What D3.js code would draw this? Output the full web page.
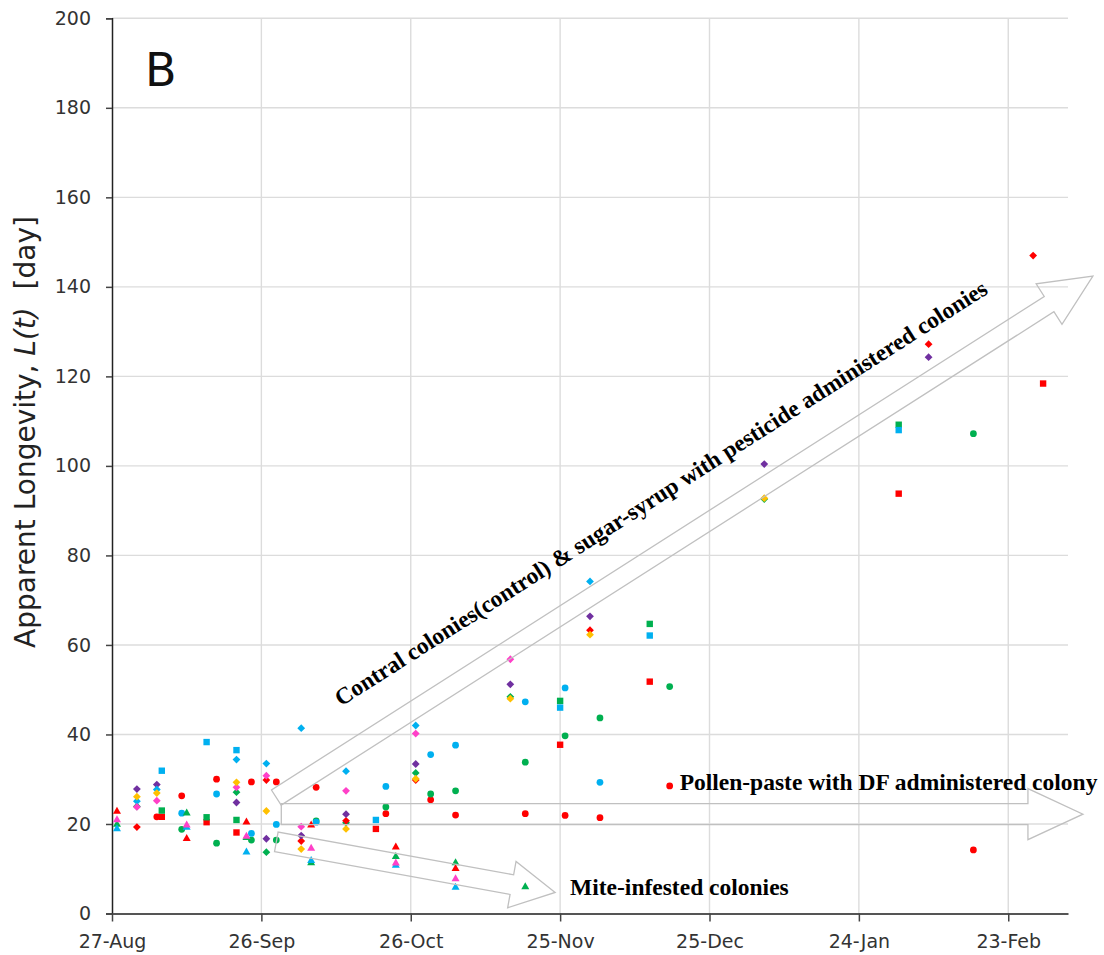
<!DOCTYPE html>
<html>
<head>
<meta charset="utf-8">
<script src="https://cdn.jsdelivr.net/npm/d3@7"></script>
<style>
  body { margin: 0; background: #fff; }
  svg { display: block; }
</style>
</head>
<body>
<script>
// colonies: [date, apparent longevity in days]
const redCircle = [["2013-09-05",21.6],["2013-09-10",26.3],["2013-09-17",30.0],["2013-09-24",29.4],["2013-09-29",29.4],["2013-10-07",28.2],["2013-10-21",22.3],["2013-10-30",25.4],["2013-11-04",22.0],["2013-11-18",22.3],["2013-11-26",21.9],["2013-12-03",21.4],["2013-12-17",28.5],["2014-02-16",14.2]];
const greenCircle = [["2013-09-10",18.8],["2013-09-17",15.7],["2013-09-24",16.4],["2013-09-29",16.4],["2013-10-07",20.7],["2013-10-21",23.8],["2013-10-30",26.7],["2013-11-04",27.4],["2013-11-18",33.8],["2013-11-26",39.7],["2013-12-03",43.7],["2013-12-17",50.7],["2014-02-16",107.2]];
const blueCircle = [["2013-09-10",22.4],["2013-09-17",26.7],["2013-09-24",17.9],["2013-09-29",19.9],["2013-10-07",20.4],["2013-10-21",28.4],["2013-10-30",35.5],["2013-11-04",37.6],["2013-11-18",47.3],["2013-11-26",50.4],["2013-12-03",29.3]];

const redSquare = [["2013-09-06",21.6],["2013-09-15",20.4],["2013-09-21",18.1],["2013-10-19",18.9],["2013-11-25",37.7],["2013-12-13",51.8],["2014-02-01",93.8],["2014-03-02",118.4]];
const greenSquare = [["2013-09-06",23.0],["2013-09-15",21.5],["2013-09-21",20.9],["2013-11-25",47.5],["2013-12-13",64.7],["2014-02-01",109.2]];
const blueSquare = [["2013-09-06",31.9],["2013-09-15",38.3],["2013-09-21",36.5],["2013-10-19",20.9],["2013-11-25",46.0],["2013-12-13",62.1],["2014-02-01",108.0]];

const greenDiamond = [["2013-09-01",23.9],["2013-09-21",27.1],["2013-09-27",13.7],["2013-10-13",20.3],["2013-10-27",31.4],["2013-11-15",48.4],["2014-01-05",92.6]];
const redDiamond = [["2013-09-01",19.3],["2013-09-27",29.8],["2013-10-04",16.2],["2013-10-13",20.7],["2013-10-27",29.8],["2013-12-01",63.3],["2014-02-07",127.2],["2014-02-28",147.0]];
const purpleDiamond = [["2013-09-01",27.8],["2013-09-05",28.8],["2013-09-21",24.8],["2013-09-27",16.7],["2013-10-04",17.4],["2013-10-13",22.2],["2013-10-27",33.4],["2013-11-15",51.2],["2013-12-01",66.4],["2014-01-05",100.4],["2014-02-07",124.3]];
const blueDiamond = [["2013-09-01",25.1],["2013-09-05",27.7],["2013-09-21",34.4],["2013-09-27",33.5],["2013-10-04",41.4],["2013-10-13",31.8],["2013-10-27",42.0],["2013-12-01",74.2]];
const pinkDiamond = [["2013-09-01",23.8],["2013-09-05",25.2],["2013-09-21",28.2],["2013-09-27",30.8],["2013-10-04",19.4],["2013-10-13",27.4],["2013-10-27",40.2],["2013-11-15",56.8]];
const orangeDiamond = [["2013-09-01",26.1],["2013-09-05",26.9],["2013-09-21",29.3],["2013-09-27",22.9],["2013-10-04",14.4],["2013-10-13",18.9],["2013-10-27",30.1],["2013-11-15",48.0],["2013-12-01",62.3],["2014-01-05",92.8]];

const greenTriangle = [["2013-08-28",20.0],["2013-09-11",22.5],["2013-09-23",17.0],["2013-10-06",11.4],["2013-10-23",12.8],["2013-11-04",11.4],["2013-11-18",6.0]];
const blueTriangle = [["2013-08-28",19.0],["2013-09-11",19.3],["2013-09-23",13.8],["2013-10-06",11.9],["2013-10-23",10.8],["2013-11-04",5.9]];
const pinkTriangle = [["2013-08-28",21.0],["2013-09-11",19.8],["2013-09-23",17.3],["2013-10-06",14.6],["2013-10-23",11.3],["2013-11-04",7.8]];
const redTriangle = [["2013-08-28",22.9],["2013-09-11",16.8],["2013-09-23",20.5],["2013-10-06",19.8],["2013-10-23",14.9],["2013-11-04",10.1]];

const xTicks = ["2013-08-27","2013-09-26","2013-10-26","2013-11-25","2013-12-25","2014-01-24","2014-02-23"];
const yTicks = [0,20,40,60,80,100,120,140,160,180,200];

// annotation arrows: tail and tip as [date, value]
const arrowControl = [["2013-09-29",25.9],["2014-03-12",142.4]];
const arrowPollen = [["2013-09-30",22.2],["2014-03-10",22.2]];
const arrowMite = [["2013-09-29",16.0],["2013-11-24",4.7]];

const series = [
  {data: redCircle, color: "#ff0000", shape: "circle"},
  {data: greenCircle, color: "#00b050", shape: "circle"},
  {data: blueCircle, color: "#00b0f0", shape: "circle"},
  {data: redSquare, color: "#ff0000", shape: "square"},
  {data: greenSquare, color: "#00b050", shape: "square"},
  {data: blueSquare, color: "#00b0f0", shape: "square"},
  {data: greenDiamond, color: "#00b050", shape: "diamond"},
  {data: redDiamond, color: "#ff0000", shape: "diamond"},
  {data: purpleDiamond, color: "#7030a0", shape: "diamond"},
  {data: blueDiamond, color: "#00b0f0", shape: "diamond"},
  {data: pinkDiamond, color: "#ff40c8", shape: "diamond"},
  {data: orangeDiamond, color: "#ffc000", shape: "diamond"},
  {data: greenTriangle, color: "#00b050", shape: "triangle"},
  {data: blueTriangle, color: "#00b0f0", shape: "triangle"},
  {data: pinkTriangle, color: "#ff40c8", shape: "triangle"},
  {data: redTriangle, color: "#ff0000", shape: "triangle"}
];

const W = 1104, H = 955;
const parse = d3.utcParse("%Y-%m-%d");

const x = d3.scaleUtc()
  .domain([parse("2013-08-27"), parse("2014-03-07")])
  .range([112, 1068]);
const y = d3.scaleLinear().domain([0, 200]).range([913.5, 18.3]);

const svg = d3.select("body").append("svg")
  .attr("width", W)
  .attr("height", H);

// gridlines
svg.append("g")
  .selectAll("line")
  .data(yTicks.filter(d => d > 0))
  .join("line")
  .attr("x1", x.range()[0]).attr("x2", x.range()[1])
  .attr("y1", d => y(d)).attr("y2", d => y(d))
  .attr("stroke", "#dcdcdc").attr("stroke-width", 1.4);

svg.append("g")
  .selectAll("line")
  .data(xTicks.slice(1))
  .join("line")
  .attr("x1", d => x(parse(d))).attr("x2", d => x(parse(d)))
  .attr("y1", y(0)).attr("y2", y(200))
  .attr("stroke", "#dcdcdc").attr("stroke-width", 1.4);

// axes
const yAxis = svg.append("g")
  .attr("transform", `translate(${x.range()[0]},0)`)
  .call(d3.axisLeft(y).tickValues(yTicks).tickSize(6).tickPadding(15));
yAxis.select(".domain").attr("stroke", "#222").attr("stroke-width", 1.5);
yAxis.selectAll(".tick line").attr("stroke", "#444").attr("stroke-width", 1.5);
yAxis.selectAll("text")
  .style("font-family", "DejaVu Sans").style("font-size", "19px").attr("fill", "#333");

const xAxis = svg.append("g")
  .attr("transform", `translate(0,${y(0)})`)
  .call(d3.axisBottom(x)
    .tickValues(xTicks.map(parse))
    .tickFormat(d3.utcFormat("%-d-%b"))
    .tickSize(8).tickSizeOuter(0).tickPadding(13));
xAxis.select(".domain").attr("stroke", "#555").attr("stroke-width", 2.2);
xAxis.selectAll(".tick line").attr("stroke", "#444").attr("stroke-width", 1.5);
xAxis.selectAll("text")
  .style("font-family", "DejaVu Sans").style("font-size", "19px").attr("fill", "#333");

// y title
const yTitle = svg.append("text")
  .attr("transform", `translate(35,432) rotate(-90)`)
  .attr("text-anchor", "middle")
  .style("font-family", "DejaVu Sans")
  .style("font-size", "28px")
  .attr("fill", "#222");
yTitle.append("tspan").text("Apparent Longevity, ");
yTitle.append("tspan").style("font-style", "italic").text("L(t)");
yTitle.append("tspan").text("\u00a0 [day]");

// panel letter
svg.append("text")
  .attr("x", 145).attr("y", 86)
  .style("font-family", "DejaVu Sans")
  .style("font-size", "46px")
  .attr("fill", "#111")
  .text("B");

// markers
const shapePath = {
  circle: d3.symbol(d3.symbolCircle, 36)(),
  square: "M-3.2,-3.2H3.2V3.2H-3.2Z",
  diamond: "M0,-3.9L3.9,0L0,3.9L-3.9,0Z",
  triangle: "M0,-4.3L4,2.7H-4Z"
};

series.forEach(s => {
  svg.append("g")
    .selectAll("path")
    .data(s.data)
    .join("path")
    .attr("transform", d => `translate(${x(parse(d[0]))},${y(d[1])})`)
    .attr("d", shapePath[s.shape])
    .attr("fill", s.color);
});

// block arrows
function arrowPoints(a, w, hw, hl) {
  const p0 = [x(parse(a[0][0])), y(a[0][1])];
  const p1 = [x(parse(a[1][0])), y(a[1][1])];
  const dx = p1[0] - p0[0], dy = p1[1] - p0[1];
  const len = Math.hypot(dx, dy);
  const u = [dx / len, dy / len], n = [-u[1], u[0]];
  const b = [p1[0] - u[0] * hl, p1[1] - u[1] * hl];
  const pt = (p, k) => [p[0] + n[0] * k, p[1] + n[1] * k];
  return [pt(p0, w), pt(b, w), pt(b, hw), p1, pt(b, -hw), pt(b, -w), pt(p0, -w)];
}

const arrows = [
  {a: arrowControl, w: 9, hw: 24, hl: 52},
  {a: arrowPollen, w: 10.5, hw: 25.5, hl: 55},
  {a: arrowMite, w: 10, hw: 23.5, hl: 44}
];
svg.append("g")
  .selectAll("polygon")
  .data(arrows)
  .join("polygon")
  .attr("points", d => arrowPoints(d.a, d.w, d.hw, d.hl).map(p => p.join(",")).join(" "))
  .attr("fill", "none")
  .attr("stroke", "#c0c0c0")
  .attr("stroke-width", 1.3);

// annotation texts
const ctrlAngle = Math.atan2(
  y(arrowControl[1][1]) - y(arrowControl[0][1]),
  x(parse(arrowControl[1][0])) - x(parse(arrowControl[0][0]))) * 180 / Math.PI;

const notes = [
  {pos: ["2013-10-12", 46.2], angle: ctrlAngle,
   text: "Contral colonies(control) & sugar-syrup with pesticide administered colonies"},
  {pos: ["2013-12-19", 27.7], angle: 0, text: "Pollen-paste with DF administered colony"},
  {pos: ["2013-11-27", 4.1], angle: 0, text: "Mite-infested colonies"}
];
svg.append("g")
  .selectAll("text")
  .data(notes)
  .join("text")
  .attr("transform", d => `translate(${x(parse(d.pos[0]))},${y(d.pos[1])}) rotate(${d.angle})`)
  .style("font-family", "Liberation Serif")
  .style("font-weight", "bold")
  .style("font-size", "23.5px")
  .attr("fill", "#000")
  .text(d => d.text);
</script>
</body>
</html>
